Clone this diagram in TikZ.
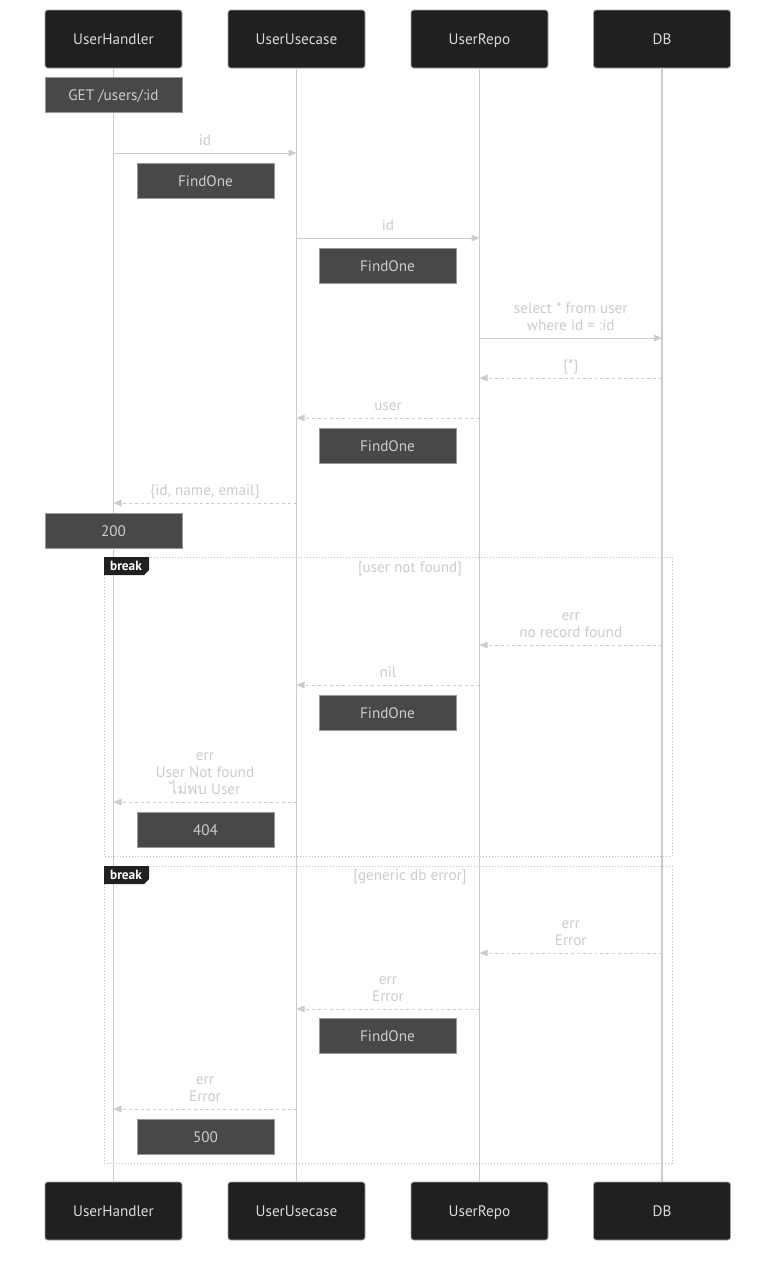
\documentclass[tikz,border=0pt]{standalone}
\usepackage{fontspec}
\setmainfont{PT Sans}
\newfontfamily\thaifont[Script=Thai]{Loma}
\usetikzlibrary{calc,arrows.meta}

\definecolor{actorfill}{HTML}{1F2020}
\definecolor{notefill}{HTML}{474949}
\definecolor{linegray}{HTML}{CCCCCC}
\definecolor{textgray}{HTML}{CCCCCC}

\tikzset{
  actorbox/.style={draw=gray!70, fill=actorfill, rounded corners=2pt, line width=0.6pt,
    minimum width=102.75pt, minimum height=43.5pt, inner sep=0pt, text=textgray!70!white,
    text height=8.5pt, text depth=0pt},
  notebox/.style={draw=gray!80, fill=notefill, line width=0.6pt,
    minimum width=102.75pt, minimum height=26.25pt, inner sep=0pt, text=textgray,
    text height=8.5pt, text depth=0pt},
  lifeline/.style={draw=linegray, line width=0.9pt},
  call/.style={draw=linegray, line width=0.75pt, -{Triangle[length=6pt,width=5pt]}},
  reply/.style={call, dash pattern=on 2.2pt off 2.2pt},
  msglabel/.style={midway, anchor=south, inner sep=0pt, yshift=5pt, align=center,
    text=textgray, text depth=0pt},
  frame/.style={draw=gray!55, line width=0.75pt, dash pattern=on 0.75pt off 1.5pt},
  breaklabel/.style={inner sep=0pt, text=white, font=\fontsize{10}{11}\selectfont\bfseries},
  condlabel/.style={inner sep=0pt, text=textgray}
}

\begin{document}
\begin{tikzpicture}[x=0.75pt, y=-0.75pt, font=\fontsize{11.4}{12.75}\selectfont]
    \fill[white] (0,0) rectangle (784,1264);
    \useasboundingbox (0,0) rectangle (784,1264);

    % Lifeline positions
    \def\xh{113.5} % UserHandler
    \def\xu{296.5} % UserUsecase
    \def\xr{479.5} % UserRepo
    \def\xd{662}   % DB

    % Actors, top and bottom, with their lifelines
    \foreach \name/\x/\lab in {h/\xh/UserHandler, u/\xu/UserUsecase, r/\xr/UserRepo, d/\xd/DB} {
        \node[actorbox] (\name-top) at (\x,39) {\lab};
        \node[actorbox] (\name-bot) at (\x,1211) {\lab};
        \draw[lifeline] (\name-top) -- (\name-bot);
    }

    % Request
    \node[notebox] (get) at (\xh,95) {GET /users/:id};

    \coordinate (m1a) at (\xh,153); \coordinate (m1b) at (\xu,153);
    \draw[call] (m1a) -- node[msglabel] {id} (m1b);
    \node[notebox] (find1) at (205.5,180.5) {FindOne};

    \coordinate (m2a) at (\xu,238); \coordinate (m2b) at (\xr,238);
    \draw[call] (m2a) -- node[msglabel] {id} (m2b);
    \node[notebox] (find2) at (387.5,265.5) {FindOne};

    \coordinate (m3a) at (\xr,338); \coordinate (m3b) at (\xd,338);
    \draw[call] (m3a) -- node[msglabel] {select * from user\\where id = :id} (m3b);

    \coordinate (m4a) at (\xd,378); \coordinate (m4b) at (\xr,378);
    \draw[reply] (m4a) -- node[msglabel] {\{*\}} (m4b);

    \coordinate (m5a) at (\xr,418); \coordinate (m5b) at (\xu,418);
    \draw[reply] (m5a) -- node[msglabel] {user} (m5b);
    \node[notebox] (find3) at (387.5,445.5) {FindOne};

    \coordinate (m6a) at (\xu,503); \coordinate (m6b) at (\xh,503);
    \draw[reply] (m6a) -- node[msglabel] {\{id, name, email\}} (m6b);
    \node[notebox] (ok) at (\xh,530.5) {200};

    % break: user not found
    \draw[frame] (104,557) rectangle (672,856);
    \fill[actorfill] (104,557) -- (149,557) -- (149,570) -- (144,575) -- (104,575) -- cycle;
    \node[breaklabel] (brk1) at (126,566) {break};
    \node[condlabel] (cond1) at (410,569) {[user not found]};

    \coordinate (n1a) at (\xd,645); \coordinate (n1b) at (\xr,645);
    \draw[reply] (n1a) -- node[msglabel] {err\\no record found} (n1b);

    \coordinate (n2a) at (\xr,685); \coordinate (n2b) at (\xu,685);
    \draw[reply] (n2a) -- node[msglabel] {nil} (n2b);
    \node[notebox] (find4) at (387.5,712.5) {FindOne};

    \coordinate (n3a) at (\xu,802); \coordinate (n3b) at (\xh,802);
    \draw[reply] (n3a) -- node[msglabel] {err\\User Not found\\{\thaifont ไม่พบ} User} (n3b);
    \node[notebox] (nf) at (205.5,829.5) {404};

    % break: generic db error
    \draw[frame] (104,866) rectangle (672,1163);
    \fill[actorfill] (104,866) -- (149,866) -- (149,879) -- (144,884) -- (104,884) -- cycle;
    \node[breaklabel] (brk2) at (126,875) {break};
    \node[condlabel] (cond2) at (410,877) {[generic db error]};

    \coordinate (e1a) at (\xd,953); \coordinate (e1b) at (\xr,953);
    \draw[reply] (e1a) -- node[msglabel] {err\\Error} (e1b);

    \coordinate (e2a) at (\xr,1009); \coordinate (e2b) at (\xu,1009);
    \draw[reply] (e2a) -- node[msglabel] {err\\Error} (e2b);
    \node[notebox] (find5) at (387.5,1035.5) {FindOne};

    \coordinate (e3a) at (\xu,1109); \coordinate (e3b) at (\xh,1109);
    \draw[reply] (e3a) -- node[msglabel] {err\\Error} (e3b);
    \node[notebox] (fail) at (205.5,1136.5) {500};
\end{tikzpicture}
\end{document}
